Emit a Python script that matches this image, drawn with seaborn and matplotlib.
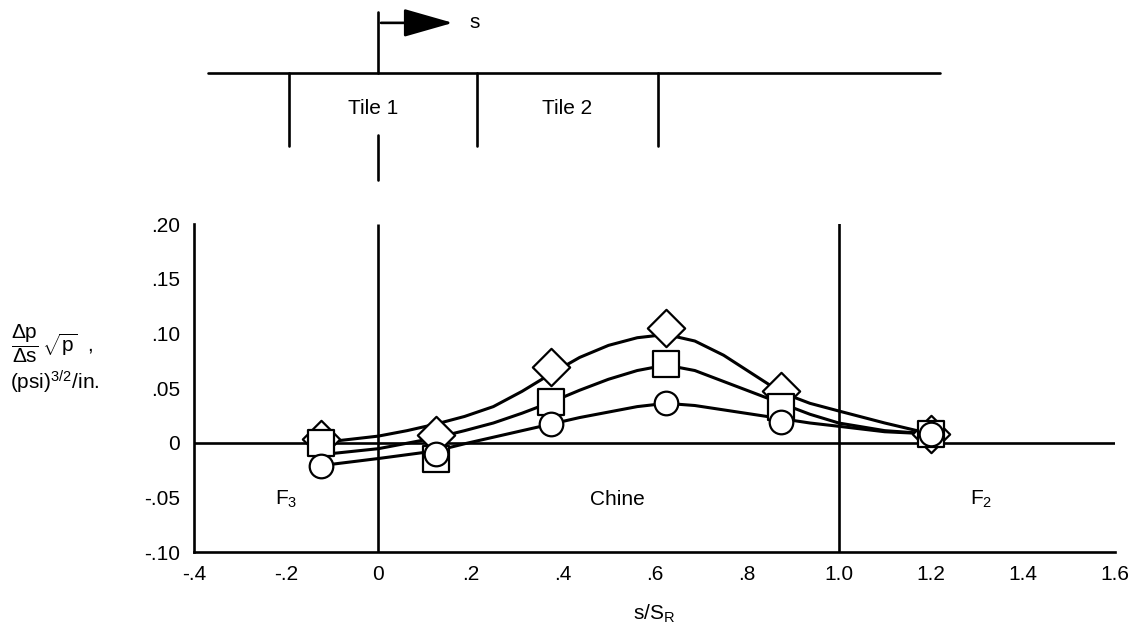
import matplotlib
matplotlib.use('Agg')
import matplotlib.pyplot as plt
import seaborn as sns

# Measured points (s/S_R stations) for the three symbol sets
s_stations = [-0.125, 0.125, 0.375, 0.625, 0.875, 1.2]
diamond_vals = [0.003, 0.0066, 0.069, 0.105, 0.047, 0.008]
square_vals = [0.000, -0.015, 0.037, 0.072, 0.033, 0.008]
circle_vals = [-0.021, -0.0105, 0.017, 0.0366, 0.019, 0.008]

# Faired curves
fair_s = [-0.125, 0.0, 0.0625, 0.125, 0.1875, 0.25, 0.3125, 0.375, 0.4375, 0.5,
          0.5625, 0.625, 0.6875, 0.75, 0.8125, 0.875, 0.9375, 1.0, 1.1, 1.2]
fair_upper = [0.000, 0.006, 0.011, 0.017, 0.024, 0.033, 0.047, 0.063, 0.078, 0.089,
              0.096, 0.099, 0.093, 0.080, 0.063, 0.046, 0.036, 0.029, 0.018, 0.008]
fair_middle = [-0.011, -0.0055, -0.0005, 0.0045, 0.011, 0.018, 0.027, 0.037, 0.048, 0.058,
               0.066, 0.071, 0.066, 0.056, 0.046, 0.036, 0.026, 0.018, 0.011, 0.008]
fair_lower = [-0.021, -0.0145, -0.011, -0.0075, -0.001, 0.005, 0.011, 0.017, 0.023, 0.028,
              0.033, 0.036, 0.034, 0.030, 0.026, 0.022, 0.018, 0.015, 0.010, 0.008]

x_ticks = [-0.4, -0.2, 0.0, 0.2, 0.4, 0.6, 0.8, 1.0, 1.2, 1.4, 1.6]
x_tick_labels = ['-.4', '-.2', '0', '.2', '.4', '.6', '.8', '1.0', '1.2', '1.4', '1.6']
y_ticks = [-0.10, -0.05, 0.0, 0.05, 0.10, 0.15, 0.20]
y_tick_labels = ['-.10', '-.05', '0', '.05', '.10', '.15', '.20']

sns.set_theme(style='white')
plt.rcParams['font.family'] = ['Liberation Sans', 'DejaVu Sans']
plt.rcParams['mathtext.fontset'] = 'custom'
plt.rcParams['mathtext.rm'] = 'Liberation Sans'
plt.rcParams['mathtext.it'] = 'Liberation Sans'
plt.rcParams['font.size'] = 15
plt.rcParams['text.color'] = 'black'
plt.rcParams['axes.labelcolor'] = 'black'

fig = plt.figure(figsize=(11.38, 6.27), dpi=100)
ax = fig.add_axes([0.1705, 0.1196, 0.8093, 0.5231])

LW = 1.9

# reference lines: zero level and tile/region boundaries
ax.hlines(0, -0.4, 1.6, color='black', lw=LW, zorder=1)
ax.vlines([0.0, 1.0], -0.10, [0.20, 0.205], color='black', lw=LW, zorder=1)

# faired curves
for curve in (fair_upper, fair_middle, fair_lower):
    sns.lineplot(x=fair_s, y=curve, ax=ax, color='black', lw=2.2, sort=False,
                 zorder=2, solid_joinstyle='round', solid_capstyle='round')

# symbols
sns.scatterplot(x=s_stations, y=diamond_vals, ax=ax, marker='D', s=19 ** 2,
                color='white', edgecolor='black', linewidth=1.6, zorder=3)
sns.scatterplot(x=s_stations, y=square_vals, ax=ax, marker='s', s=19 ** 2,
                color='white', edgecolor='black', linewidth=1.6, zorder=4)
sns.scatterplot(x=s_stations, y=circle_vals, ax=ax, marker='o', s=17 ** 2,
                color='white', edgecolor='black', linewidth=1.6, zorder=5)

ax.set_xlim(-0.4, 1.6)
ax.set_ylim(-0.10, 0.20)
ax.set_xticks(x_ticks)
ax.set_xticklabels(x_tick_labels)
ax.set_yticks(y_ticks)
ax.set_yticklabels(y_tick_labels)
ax.tick_params(axis='both', direction='in', length=17, width=1.6, labelsize=15,
               colors='black')
ax.tick_params(axis='x', pad=9)
ax.tick_params(axis='y', pad=10)
sns.despine(ax=ax)
for side in ('left', 'bottom'):
    ax.spines[side].set_linewidth(LW)
    ax.spines[side].set_color('black')

ax.set_xlabel('s/S$_\\mathregular{R}$', fontsize=15, labelpad=14)

# region labels
ax.text(-0.20, -0.052, 'F$_3$', ha='center', va='center', fontsize=15)
ax.text(0.52, -0.052, 'Chine', ha='center', va='center', fontsize=15)
ax.text(1.31, -0.052, 'F$_2$', ha='center', va='center', fontsize=15)

# y-axis label
fig.text(0.010, 0.452, r'$\dfrac{\Delta\mathrm{p}}{\Delta\mathrm{s}}\,\sqrt{\mathrm{p}}$  ,',
         ha='left', va='center', fontsize=15)
fig.text(0.009, 0.390, '(psi)$^{3/2}$/in.', ha='left', va='center', fontsize=15)

# tile schematic above the plot
y_skin = 0.338
ax.plot([-0.37, 1.22], [y_skin, y_skin], color='black', lw=LW, clip_on=False)
for xb in (-0.193, 0.215, 0.608):
    ax.plot([xb, xb], [y_skin, 0.271], color='black', lw=LW, clip_on=False)
ax.plot([0.0, 0.0], [y_skin, 0.394], color='black', lw=LW, clip_on=False)
ax.plot([0.0, 0.0], [0.2815, 0.240], color='black', lw=LW, clip_on=False)
ax.annotate('', xy=(0.168, 0.384), xytext=(0.0, 0.384),
            arrowprops=dict(arrowstyle='-|>,head_length=1.4,head_width=0.4',
                            mutation_scale=22, lw=LW, color='black'),
            annotation_clip=False)
ax.text(0.198, 0.384, 's', ha='left', va='center', fontsize=15)
ax.text(-0.012, 0.306, 'Tile 1', ha='center', va='center', fontsize=15)
ax.text(0.41, 0.306, 'Tile 2', ha='center', va='center', fontsize=15)

fig.savefig('out.png', dpi=100, facecolor='white')
